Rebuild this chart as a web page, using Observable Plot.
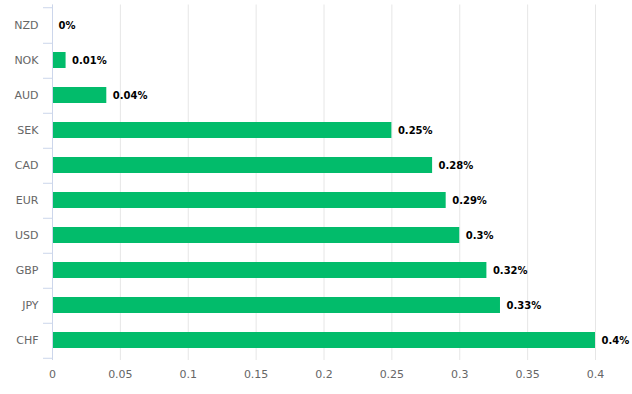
<!DOCTYPE html>
<html><head><meta charset="utf-8">
<script src="https://cdn.jsdelivr.net/npm/d3@7"></script>
<script src="https://cdn.jsdelivr.net/npm/@observablehq/plot@0.6"></script>
<style>body{margin:0;background:#fff;} svg{display:block;}</style>
</head><body><div id="chart"></div>
<script>
const currencies = ["NZD","NOK","AUD","SEK","CAD","EUR","USD","GBP","JPY","CHF"];
const values = [0, 0.01, 0.04, 0.25, 0.28, 0.29, 0.30, 0.32, 0.33, 0.40];
const labels = ["0%","0.01%","0.04%","0.25%","0.28%","0.29%","0.3%","0.32%","0.33%","0.4%"];
const xTicks = [0, 0.05, 0.1, 0.15, 0.2, 0.25, 0.3, 0.35, 0.4];

const data = currencies.map((c, i) => ({currency: c, value: values[i], label: labels[i]}));

const W = 632, H = 394, mt = 4.5, mb = 34;
const step = (H - mt - mb) / currencies.length;
const font = "DejaVu Sans, Verdana, sans-serif";

const chart = Plot.plot({
  width: W, height: H,
  marginLeft: 52, marginRight: 37, marginTop: mt, marginBottom: mb,
  style: {fontFamily: font, fontSize: "11px", background: "#fff"},
  x: {domain: [0, 0.4]},
  y: {domain: currencies, paddingInner: 0.55, paddingOuter: 0.275, align: 0.5},
  marks: [
    Plot.gridX(xTicks, {stroke: "#e6e6e6", strokeOpacity: 1}),
    Plot.axisX(xTicks, {tickSize: 0, tickPadding: 10, fill: "#666", label: null, tickFormat: d => String(d), fontSize: 11}),
    Plot.axisY({tickSize: 0, tickPadding: 14, fill: "#666", label: null, fontSize: 11}),
    Plot.axisY({tickSize: 9, text: null, stroke: "#ccd6eb", strokeOpacity: 1, dy: step / 2, label: null}),
    Plot.axisY([currencies[0]], {tickSize: 9, text: null, stroke: "#ccd6eb", strokeOpacity: 1, dy: -step / 2, label: null}),
    Plot.barX(data, {x: "value", y: "currency", fill: "#02bc6b"}),
    Plot.ruleX([0], {stroke: "#ccd6eb"}),
    Plot.text(data, {x: "value", y: "currency", text: "label", dx: 6, textAnchor: "start", fontWeight: "bold", fill: "#000", fontSize: 10})
  ]
});
document.getElementById("chart").append(chart);
</script></body></html>
